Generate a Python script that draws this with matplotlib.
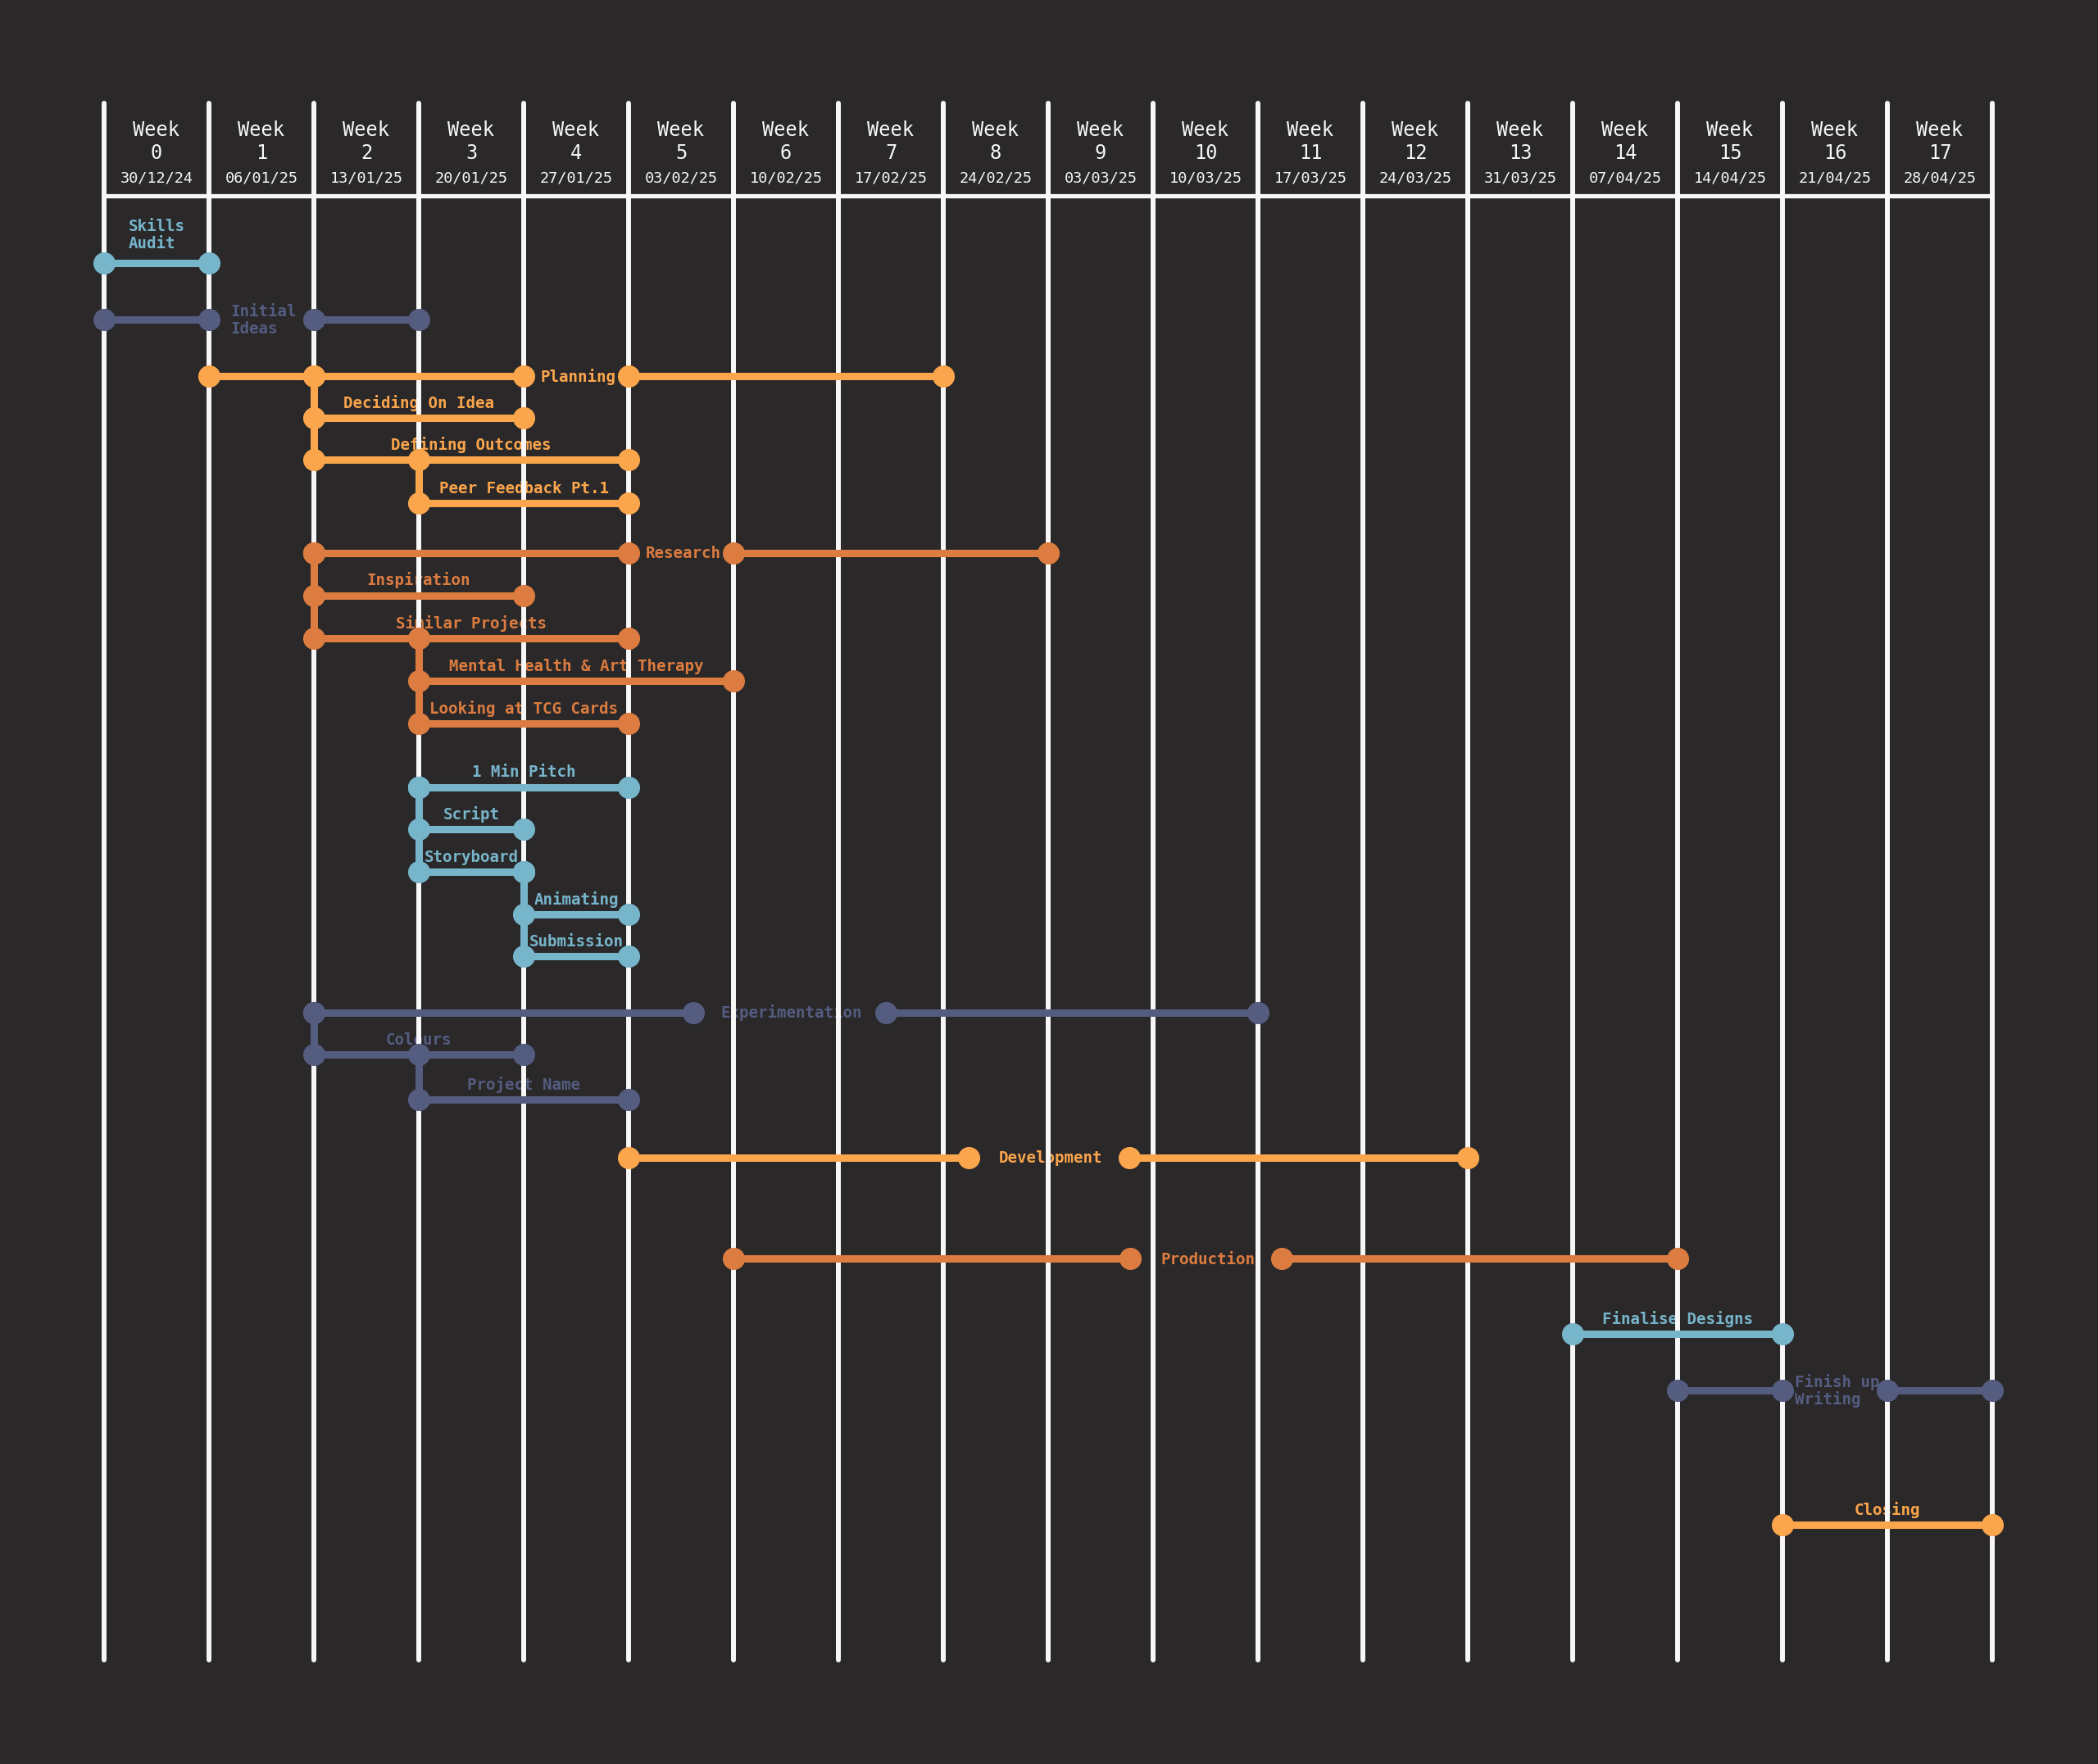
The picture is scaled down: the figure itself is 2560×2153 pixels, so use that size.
import matplotlib
matplotlib.use("Agg")
import matplotlib.pyplot as plt

# ---------------- data ----------------
week_numbers = list(range(18))
week_dates = ["30/12/24", "06/01/25", "13/01/25", "20/01/25", "27/01/25", "03/02/25",
              "10/02/25", "17/02/25", "24/02/25", "03/03/25", "10/03/25", "17/03/25",
              "24/03/25", "31/03/25", "07/04/25", "14/04/25", "21/04/25", "28/04/25"]

task_labels = ["Skills\nAudit", "Initial\nIdeas", "Planning", "Deciding On Idea",
               "Defining Outcomes", "Peer Feedback Pt.1", "Research", "Inspiration",
               "Similar Projects", "Mental Health & Art Therapy", "Looking at TCG Cards",
               "1 Min Pitch", "Script", "Storyboard", "Animating", "Submission",
               "Experimentation", "Colours", "Project Name", "Development", "Production",
               "Finalise Designs", "Finish up\nWriting", "Closing"]
task_start = [0, 0, 1, 2, 2, 3, 2, 2, 2, 3, 3, 3, 3, 3, 4, 4, 2, 2, 3, 5, 6, 14, 15, 16]
task_end = [1, 3, 8, 4, 5, 5, 9, 4, 5, 6, 5, 5, 4, 4, 5, 5, 11, 4, 5, 13, 15, 16, 18, 18]
task_group = [0, 1, 2, 2, 2, 2, 3, 3, 3, 3, 3, 0, 0, 0, 0, 0, 1, 1, 1, 2, 3, 0, 1, 2]
task_parent = [None, None, None, 2, 2, 4, None, 6, 6, 8, 8, None, 11, 11, 13, 13,
               None, 16, 17, None, None, None, None, None]
# label gap inside the bar (weeks), None when label sits above the bar
gap_start = [None, 1, 4, None, None, None, 5, None, None, None, None, None, None, None,
             None, None, 5.62, None, None, 8.24, 9.78, None, 16, None]
gap_end = [None, 2, 5, None, None, None, 6, None, None, None, None, None, None, None,
           None, None, 7.45, None, None, 9.77, 11.23, None, 17, None]

# ---------------- layout / style ----------------
row_y = [321, 390, 459, 509.5, 561, 614, 674.5, 726.5, 778.8, 830.8, 883,
         960.5, 1012.3, 1064.4, 1115.6, 1167.2, 1235.5, 1286.7, 1342.3,
         1412.5, 1536.2, 1628.2, 1696.6, 1861.2]
group_colors = ["#77b5cb", "#545c80", "#fba64c", "#dc7c40"]
bg = "#2a2829"
white = "#f7f7f7"
mono = ["DejaVu Sans Mono"]

W, H = 2560, 2153
X0, DX = 127, 128  # pixel of week 0 line, pixels per week

fig = plt.figure(figsize=(W / 100, H / 100), dpi=100, facecolor=bg)
ax = fig.add_axes([0, 0, 1, 1])
ax.set_facecolor(bg)
ax.set_xlim(-X0 / DX, (W - X0) / DX)
ax.set_ylim(H, 0)
ax.axis("off")

# grid lines
top_y, bot_y, head_y = 126, 2026, 239
for i in range(len(week_numbers) + 1):
    ax.plot([i, i], [top_y, bot_y], color=white, lw=4.3, solid_capstyle="round", zorder=2)
ax.plot([0, len(week_numbers)], [head_y, head_y], color=white, lw=3.8,
        solid_capstyle="butt", zorder=2)

# header
for i, (wn, d) in enumerate(zip(week_numbers, week_dates)):
    cx = i + 0.5
    ax.text(cx, 158.5, "Week", ha="center", va="center", color=white,
            fontsize=17, family=mono, zorder=3)
    ax.text(cx, 186.5, str(wn), ha="center", va="center", color=white,
            fontsize=17, family=mono, zorder=3)
    ax.text(cx, 217, d, ha="center", va="center", color=white,
            fontsize=13.3, family=mono, zorder=3)

bar_lw = 6.5
dot_ms = 19.5

# connectors
for k, p in enumerate(task_parent):
    if p is None:
        continue
    c = group_colors[task_group[k]]
    x = task_start[k]
    ax.plot([x, x], [row_y[p], row_y[k]], color=c, lw=bar_lw,
            solid_capstyle="butt", zorder=4)
    ax.plot([x], [row_y[p]], "o", color=c, ms=dot_ms, mew=0, zorder=5)

# bars
for k in range(len(task_labels)):
    c = group_colors[task_group[k]]
    y = row_y[k]
    s, e = task_start[k], task_end[k]
    if gap_start[k] is not None:
        segs = [(s, gap_start[k]), (gap_end[k], e)]
    else:
        segs = [(s, e)]
    for a, b in segs:
        ax.plot([a, b], [y, y], color=c, lw=bar_lw, solid_capstyle="butt", zorder=4)
        ax.plot([a, b], [y, y], "o", color=c, ms=dot_ms, mew=0, zorder=5)
    if gap_start[k] is not None:
        ax.text((gap_start[k] + gap_end[k]) / 2 + 0.02, y + 1, task_labels[k], ha="center",
                va="center", multialignment="left", color=c, fontsize=13.8,
                fontweight="bold", family=mono, zorder=1, linespacing=1.1)
    else:
        if "\n" in task_labels[k]:
            ax.text((s + e) / 2, y - 14, task_labels[k], ha="center", va="bottom",
                    multialignment="left", color=c, fontsize=13.8, fontweight="bold",
                    family=mono, zorder=1, linespacing=1.1)
        else:
            ax.text((s + e) / 2, y - 12, task_labels[k], ha="center", va="baseline",
                    color=c, fontsize=13.8, fontweight="bold", family=mono, zorder=1)

fig.savefig("out.png", dpi=100, facecolor=bg)
